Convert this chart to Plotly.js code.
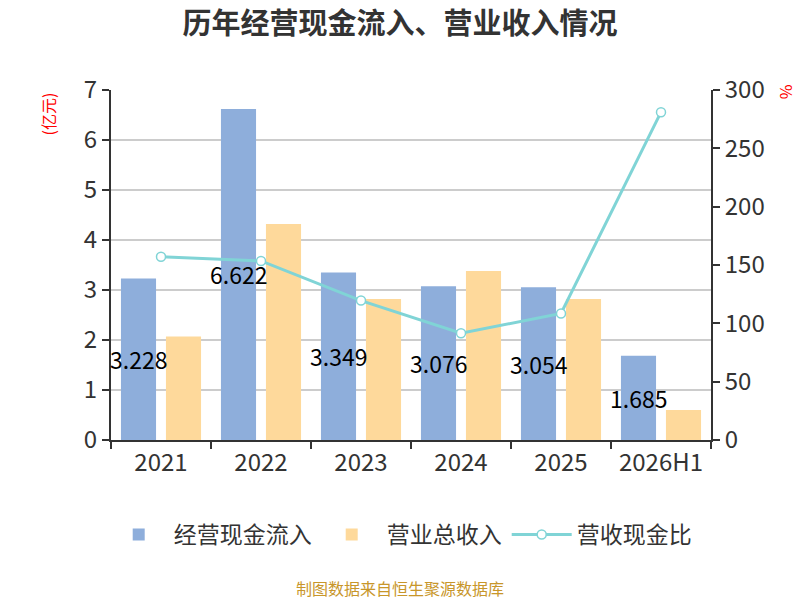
<!DOCTYPE html>
<html lang="en">
<head>
    <meta charset="UTF-8">
    <title>经营现金流入、营业收入</title>
    <script src="https://cdn.plot.ly/plotly-3.0.1.min.js"></script>
    <style>
        body { margin: 0; }
    </style>
</head>

<body>
<div id="plot"></div>

<script>

    const years = ['2021', '2022', '2023', '2024', '2025', '2026H1']
    const cashIn = [3.228, 6.622, 3.349, 3.076, 3.054, 1.685]
    const revenue = [2.07, 4.32, 2.82, 3.38, 2.82, 0.60]
    const cashRatio = [157, 153.5, 119.5, 91.5, 108.5, 281]

    const font = '"Noto Sans CJK SC", "Noto Sans", sans-serif'

    const dataCash = {
        x: years,
        y: cashIn,
        name: '经营现金流入',
        type: 'bar',
        marker: { color: '#8eaedb' }
    }

    const dataRevenue = {
        x: years,
        y: revenue,
        name: '营业总收入',
        type: 'bar',
        marker: { color: '#fed99b' }
    }

    const dataRatio = {
        x: years,
        y: cashRatio,
        name: '营收现金比',
        type: 'scatter',
        mode: 'lines+markers',
        yaxis: 'y2',
        line: { color: '#80d4d6', width: 3 },
        marker: { symbol: 'circle', size: 9, color: '#fff', line: { color: '#80d4d6', width: 1.5 } },
        cliponaxis: false
    }

    const data = [dataCash, dataRevenue, dataRatio]

    // value labels in the middle of the blue bars, full size (wider than the bar)
    // x is the category index so the category axis is not confused by '2021' etc.
    const valueLabels = cashIn.map((v, i) => ({
        x: i,
        y: v / 2,
        xref: 'x',
        yref: 'y',
        xshift: -22.5,
        text: v.toFixed(3),
        showarrow: false,
        font: { size: 23, color: '#000' }
    }))

    const axisStyle = {
        showline: true,
        linecolor: '#333',
        linewidth: 2,
        ticks: 'outside',
        ticklen: 7,
        tickwidth: 2,
        tickcolor: '#333',
        tickfont: { size: 24, color: '#333' },
        zeroline: false
    }

    const layout = {
        width: 800,
        height: 600,
        margin: { l: 111, r: 89, t: 90, b: 160, autoexpand: false },
        paper_bgcolor: '#fff',
        plot_bgcolor: '#fff',
        font: { family: font, color: '#333' },
        title: {
            text: '<b>历年经营现金流入、营业收入情况</b>',
            font: { size: 29, color: '#333', family: font },
            x: 0.5,
            xanchor: 'center',
            y: 0.96,
            yanchor: 'middle'
        },
        showlegend: true,
        barmode: 'group',
        bargap: 0.1,
        bargroupgap: 0.22,
        xaxis: Object.assign({}, axisStyle, {
            type: 'category',
            categoryarray: years,
            range: [-0.5, years.length - 0.5],
            tickson: 'boundaries',
            tickangle: 0,
            showgrid: false
        }),
        yaxis: Object.assign({}, axisStyle, {
            range: [0, 7],
            dtick: 1,
            showgrid: true,
            gridcolor: '#cccccc',
            gridwidth: 1.5
        }),
        yaxis2: Object.assign({}, axisStyle, {
            range: [0, 300],
            dtick: 50,
            overlaying: 'y',
            side: 'right',
            showgrid: false
        }),
        legend: {
            orientation: 'h',
            x: 0.482,
            xanchor: 'center',
            y: -0.27,
            yanchor: 'middle',
            font: { size: 23, color: '#333' },
            itemwidth: 60
        },
        annotations: valueLabels.concat([
            {
                text: '(亿元)',
                xref: 'paper', yref: 'paper',
                x: -0.105, y: 0.93,
                xanchor: 'center', yanchor: 'middle',
                textangle: -90,
                showarrow: false,
                font: { size: 16, color: '#ff0000' }
            },
            {
                text: '%',
                xref: 'paper', yref: 'paper',
                x: 1.127, y: 0.995,
                xanchor: 'center', yanchor: 'middle',
                textangle: 90,
                showarrow: false,
                font: { size: 16, color: '#ff0000' }
            },
            {
                text: '制图数据来自恒生聚源数据库',
                xref: 'paper', yref: 'paper',
                x: 0.482, y: -0.424,
                xanchor: 'center', yanchor: 'middle',
                showarrow: false,
                font: { size: 16, color: '#c8962a' }
            }
        ])
    }

    Plotly.newPlot('plot', data, layout, { displayModeBar: false })

</script>

</body>
</html>
